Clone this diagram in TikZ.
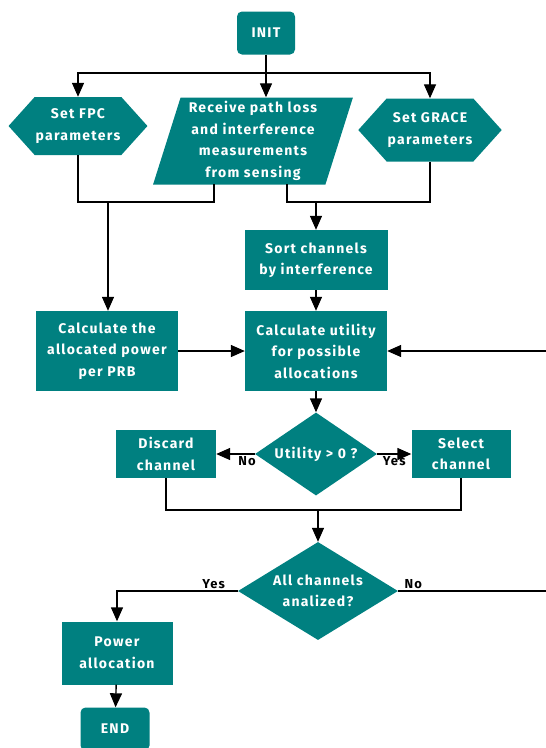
\documentclass[tikz,border=0pt]{standalone}
\usepackage{fontspec}
\setmainfont{Fira Sans}[LetterSpace=9]
\usetikzlibrary{shapes.geometric,shapes.symbols,arrows.meta}
\definecolor{boxteal}{RGB}{0,128,128}
\tikzset{
base/.style={fill=boxteal,draw=none,text=white,font=\fontsize{14}{21.5}\selectfont\bfseries,align=center,inner sep=1pt},
proc/.style={base,rectangle},
term/.style={base,rectangle,rounded corners=5pt,minimum width=58pt,minimum height=43pt},
hexa/.style={base,signal,signal to=west and east,signal pointer angle=96,minimum width=135pt,minimum height=58pt},
inbox/.style={base,trapezium,trapezium left angle=73,trapezium right angle=107,trapezium stretches=true,minimum width=200pt,minimum height=87pt},
decide/.style={base,diamond,inner sep=0pt},
line/.style={draw=black,line width=1.4pt},
arrow/.style={line,-{Triangle[length=14pt,width=12pt]}},
lab/.style={font=\fontsize{13}{15}\selectfont\bfseries,text=black,inner sep=2pt}
}
\begin{document}
\begin{tikzpicture}[x=1pt,y=-1pt]
\useasboundingbox (0,0) rectangle (546,748);

% start and parameters
\node[term] (init) at (266,33) {INIT};
\node[hexa] (fpc) at (78,126) {Set FPC\\parameters};
\node[inbox] (recv) at (253,141) {Receive path loss\\and interference\\measurements\\from sensing};
\node[hexa,minimum height=63pt] (grace) at (430,130) {Set GRACE\\parameters};

% channel loop
\node[proc,minimum width=143pt,minimum height=60pt] (sort) at (316,260) {Sort channels\\by interference};
\node[proc,minimum width=142pt,minimum height=80pt] (utility) at (316,351) {Calculate utility\\for possible\\allocations};
\node[proc,minimum width=142pt,minimum height=80pt] (power) at (107,351) {Calculate the\\allocated power\\per PRB};
\node[decide,aspect=1.47,minimum width=122pt,minimum height=83pt] (util0) at (316,454) {Utility > 0 ?};
\node[proc,minimum width=100pt,minimum height=48pt] (discard) at (166,454) {Discard\\channel};
\node[proc,minimum width=99pt,minimum height=48pt] (select) at (461,454) {Select\\channel};
\node[decide,aspect=1.63,minimum width=160pt,minimum height=98pt] (check) at (318,591) {All channels\\analized?};

% end
\node[proc,minimum width=111pt,minimum height=63pt] (alloc) at (117,653) {Power\\allocation};
\node[term,minimum width=69pt] (end) at (115,729) {END};

\coordinate (split) at (266,73);
\coordinate (recvL) at (214,184);
\coordinate (recvR) at (287,184);
\coordinate (joinL) at (108,202);
\coordinate (joinR) at (316,202);
\coordinate (joinC) at (318,510);

\draw[line] (init) -- (split);
\draw[arrow] (split) -| (fpc);
\draw[arrow] (split) -- (split |- recv.north);
\draw[arrow] (split) -| (grace);

\draw[line] (fpc) |- (recvL |- joinL) -- (recvL);
\draw[arrow] (joinL) -- (joinL |- power.north);
\draw[line] (recvR) |- (grace.south |- joinR) -- (grace);
\draw[arrow] (joinR) -- (sort);

\draw[arrow] (sort) -- (utility);
\draw[arrow] (power) -- (utility);
\draw[arrow] (utility) -- (util0);
\draw[arrow] (util0) -- node[lab,below,pos=0.2] (no1) {No} (discard);
\draw[arrow] (util0) -- node[lab,below,pos=0.5] (yes1) {Yes} (select);
\draw[line] (discard) |- (joinC) -| (select);
\draw[arrow] (joinC) -- (check);
\draw[arrow] (check) -| node[lab,above,pos=0.1] (yes2) {Yes} (alloc);
\draw[arrow] (check.east) -- node[lab,above,pos=0.1] (no2) {No} ++(150,0) |- (utility.east);
\draw[arrow] (alloc) -- (end);

\end{tikzpicture}
\end{document}
